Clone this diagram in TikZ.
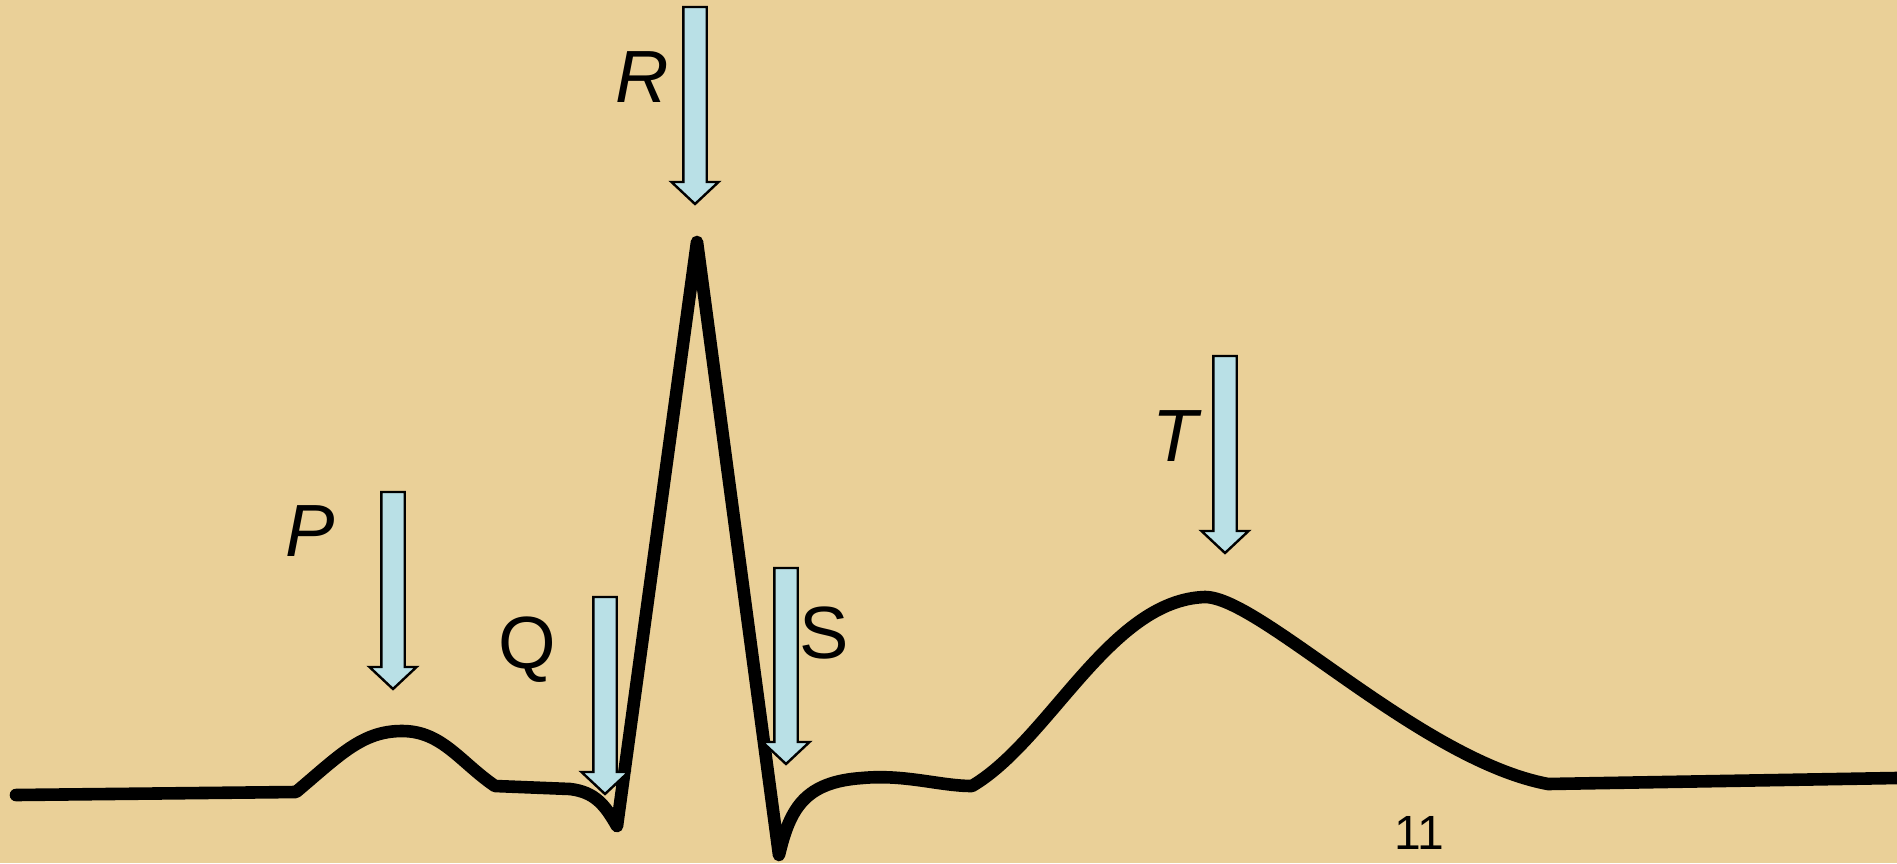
\documentclass[tikz,border=0pt]{standalone}
\usepackage{fontspec}
\setmainfont{Liberation Sans}
\definecolor{parch}{RGB}{234,208,152}
\definecolor{arrowblue}{RGB}{185,224,230}
\tikzset{
  ecgline/.style={line width=6.3pt, black, line join=round, line cap=round},
  marker/.style={draw=black, line width=1.2pt, fill=arrowblue, line join=miter},
  wavelabel/.style={font=\fontsize{37}{40}\selectfont\itshape, inner sep=0pt},
  wavelabelup/.style={font=\fontsize{37}{40}\selectfont, inner sep=0pt},
}
% #1 x, #2 top y, #3 tip y
\newcommand\ecgarrow[3]{%
  \path[marker] (#1-11.7,#2) -- (#1+11.7,#2) -- (#1+11.7,#3-22) -- (#1+23.5,#3-22)
    -- (#1,#3) -- (#1-23.5,#3-22) -- (#1-11.7,#3-22) -- cycle;}
\begin{document}
\begin{tikzpicture}[x=0.5pt,y=-0.5pt]
\fill[parch] (0,0) rectangle (1897,863);
\useasboundingbox (0,0) rectangle (1897,863);
% waveform
\coordinate (start) at (16,795);
\coordinate (pstart) at (296,792);
\coordinate (ppeak) at (402,731);
\coordinate (pend) at (495,786);
\coordinate (qstart) at (570,789);
\coordinate (qtip) at (617,826);
\coordinate (rpeak) at (697,242);
\coordinate (stip) at (779,855);
\coordinate (stend) at (862,778);
\coordinate (tstart) at (972,786);
\coordinate (tpeak) at (1205,597);
\coordinate (tend) at (1548,784);
\coordinate (finish) at (1897,778);
\draw[ecgline] (start) -- (pstart)
  .. controls (340,755) and (362,731) .. (ppeak)
  .. controls (442,731) and (460,762) .. (pend)
  -- (qstart) .. controls (595,792) and (605,805) .. (qtip)
  -- (rpeak) -- (stip)
  .. controls (790,808) and (805,782) .. (stend)
  .. controls (905,774) and (940,786) .. (tstart)
  .. controls (1050,740) and (1110,600) .. (tpeak)
  .. controls (1260,597) and (1420,760) .. (tend)
  -- (finish);
% arrows
\ecgarrow{695}{7}{204}
\ecgarrow{393}{492}{689}
\ecgarrow{605}{597}{794}
\ecgarrow{786}{568}{764}
\ecgarrow{1225}{356}{553}
% labels
\node[wavelabel] (R) at (642,77) {R};
\node[wavelabel] (P) at (310,531) {P};
\node[wavelabelup] (Q) at (527,650) {Q};
\node[wavelabelup] (S) at (824,633) {S};
\node[wavelabel] (T) at (1175,436) {T};
\node[font=\fontsize{24}{26}\selectfont, inner sep=0pt] (pagenum) at (1419,833) {11};
\end{tikzpicture}
\end{document}
